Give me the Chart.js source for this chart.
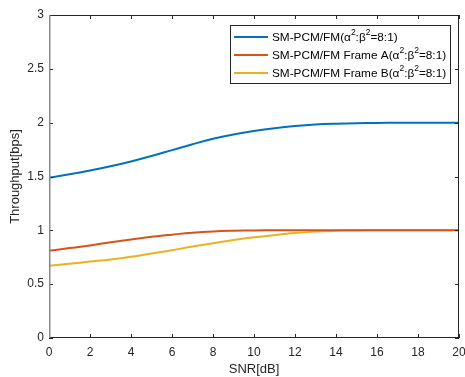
<!DOCTYPE html>
<html>
<head>
<meta charset="UTF-8">
<title>Throughput vs SNR</title>
<script src="https://cdn.jsdelivr.net/npm/chart.js"></script>
<style>
  html, body { margin: 0; padding: 0; background: #fff; }
  #wrap { width: 465px; height: 377px; }
</style>
</head>
<body>
<div id="wrap"><canvas id="c" width="465" height="377"></canvas></div>
<script>
// data
const snr = [0, 1, 2, 3, 4, 5, 6, 7, 8, 9, 10, 11, 12, 13, 14, 15, 16, 17, 18, 19, 20];
const pcmFm = [1.49, 1.52, 1.555, 1.595, 1.64, 1.69, 1.745, 1.80, 1.85, 1.89, 1.922, 1.948, 1.968, 1.982, 1.99, 1.995, 1.998, 2.0, 2.0, 2.0, 2.0];
const frameA = [0.81, 0.835, 0.86, 0.89, 0.915, 0.94, 0.96, 0.978, 0.99, 0.996, 0.999, 1.0, 1.0, 1.0, 1.0, 1.0, 1.0, 1.0, 1.0, 1.0, 1.0];
const frameB = [0.67, 0.69, 0.71, 0.73, 0.755, 0.785, 0.815, 0.85, 0.88, 0.91, 0.935, 0.955, 0.975, 0.988, 0.995, 0.999, 1.0, 1.0, 1.0, 1.0, 1.0];
const seriesNames = ['SM-PCM/FM(α²:β²=8:1)', 'SM-PCM/FM Frame A(α²:β²=8:1)', 'SM-PCM/FM Frame B(α²:β²=8:1)'];
const xTicks = [0, 2, 4, 6, 8, 10, 12, 14, 16, 18, 20];
const yTicks = [0, 0.5, 1, 1.5, 2, 2.5, 3];

const FONT = '"Liberation Sans", Arial, sans-serif';
const AXIS = '#262626';

function pts(ys) { return snr.map((x, i) => ({ x: x, y: ys[i] })); }

// draw text with "²" rendered as a raised small 2
function drawSup(ctx, text, x, y) {
  const parts = text.split('²');
  let cx = x;
  parts.forEach((p, i) => {
    ctx.font = '11.8px ' + FONT;
    ctx.fillText(p, cx, y);
    cx += ctx.measureText(p).width;
    if (i < parts.length - 1) {
      ctx.font = '8.5px ' + FONT;
      ctx.fillText('2', cx, y - 5);
      cx += ctx.measureText('2').width;
    }
  });
}

const boxPlugin = {
  id: 'boxPlugin',
  afterDatasetsDraw(chart) {
    const ctx = chart.ctx;
    const a = chart.chartArea;
    const xs = chart.scales.x, ys = chart.scales.y;
    ctx.save();
    ctx.strokeStyle = AXIS;
    ctx.lineWidth = 1;
    ctx.strokeRect(a.left + 0.5, a.top + 0.5, a.right - a.left - 1, a.bottom - a.top - 1);
    // inward ticks
    ctx.beginPath();
    xTicks.forEach(t => {
      const px = Math.round(xs.getPixelForValue(t)) + 0.5;
      ctx.moveTo(px, a.bottom); ctx.lineTo(px, a.bottom - 4);
      ctx.moveTo(px, a.top); ctx.lineTo(px, a.top + 4);
    });
    yTicks.forEach(t => {
      const py = Math.round(ys.getPixelForValue(t)) + 0.5;
      ctx.moveTo(a.left, py); ctx.lineTo(a.left + 4, py);
      ctx.moveTo(a.right, py); ctx.lineTo(a.right - 4, py);
    });
    ctx.stroke();
    // left axis looks grey in the original
    ctx.strokeStyle = '#8a8a8a';
    ctx.lineWidth = 1.5;
    ctx.beginPath();
    ctx.moveTo(a.left + 0.75, a.top); ctx.lineTo(a.left + 0.75, a.bottom);
    ctx.stroke();

    // legend
    const lx = 230, ly = 25, lw = 220, lh = 58;
    ctx.lineWidth = 1;
    ctx.fillStyle = '#fff';
    ctx.fillRect(lx, ly, lw, lh);
    ctx.strokeStyle = AXIS;
    ctx.strokeRect(lx + 0.5, ly + 0.5, lw, lh);
    chart.data.datasets.forEach((ds, i) => {
      const yy = 37 + i * 18;
      ctx.strokeStyle = ds.borderColor;
      ctx.lineWidth = 2;
      ctx.beginPath();
      ctx.moveTo(234, yy); ctx.lineTo(268, yy);
      ctx.stroke();
      ctx.fillStyle = '#000';
      ctx.textBaseline = 'middle';
      ctx.textAlign = 'left';
      drawSup(ctx, ds.label, 272, yy + 1);
    });
    ctx.restore();
  }
};

new Chart(document.getElementById('c'), {
  type: 'line',
  data: {
    datasets: [
      { label: seriesNames[0], data: pts(pcmFm), borderColor: '#0072BD' },
      { label: seriesNames[1], data: pts(frameA), borderColor: '#D95319' },
      { label: seriesNames[2], data: pts(frameB), borderColor: '#EDB120' }
    ].map(d => Object.assign(d, { borderWidth: 2, pointRadius: 0, fill: false, tension: 0.4 }))
  },
  options: {
    responsive: false,
    animation: false,
    events: [],
    layout: { padding: { left: 0, right: 6, top: 15, bottom: 0 } },
    plugins: { legend: { display: false }, tooltip: { enabled: false } },
    scales: {
      x: {
        type: 'linear', min: 0, max: 20,
        afterBuildTicks: s => { s.ticks = xTicks.map(v => ({ value: v })); },
        afterFit: s => { s.height = 39; s.paddingLeft = 0; s.paddingRight = 0; },
        grid: { display: false, drawTicks: false },
        border: { display: false },
        ticks: { color: AXIS, font: { family: FONT, size: 12 }, padding: 7, maxRotation: 0, autoSkip: false,
                 callback: v => String(v) },
        title: { display: true, text: 'SNR[dB]', color: AXIS, font: { family: FONT, size: 13 }, padding: { top: 1, bottom: 0 } }
      },
      y: {
        type: 'linear', min: 0, max: 3,
        afterBuildTicks: s => { s.ticks = yTicks.map(v => ({ value: v })); },
        afterFit: s => { s.width = 49; },
        grid: { display: false, drawTicks: false },
        border: { display: false },
        ticks: { color: AXIS, font: { family: FONT, size: 12 }, padding: 5, autoSkip: false,
                 callback: v => String(v) },
        title: { display: true, text: 'Throughput[bps]', color: AXIS, font: { family: FONT, size: 13 }, padding: { top: 8, bottom: 4 } }
      }
    }
  },
  plugins: [boxPlugin]
});
</script>
</body>
</html>
